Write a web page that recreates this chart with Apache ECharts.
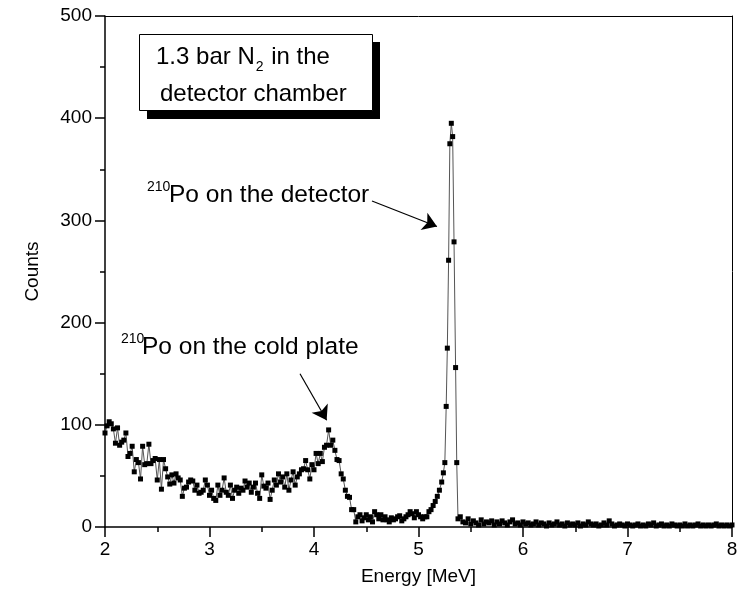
<!DOCTYPE html>
<html>
<head>
<meta charset="utf-8">
<script src="https://cdn.jsdelivr.net/npm/echarts@6/dist/echarts.min.js"></script>
<style>
html, body { margin: 0; padding: 0; background: #fff; }
#chart { width: 745px; height: 605px; }
</style>
</head>
<body>
<div id="chart"></div>
<script>
// spectrum below the main peak, channels of 0.02 MeV starting at 2.00 MeV
const lowStart = 2.0
const lowStep = 0.02
const lowCounts = [
  92, 99, 103, 101, 96, 82, 97, 80, 83, 85, 92, 69, 72, 79, 54, 66, 63, 47, 79, 61,
  62, 81, 62, 65, 67, 46, 66, 37, 66, 57, 49, 42, 51, 43, 52, 48, 46, 30, 38, 39,
  44, 46, 45, 36, 41, 33, 34, 36, 46, 41, 31, 36, 28, 26, 41, 31, 36, 48, 34, 31,
  41, 28, 36, 39, 33, 38, 36, 45, 39, 43, 34, 39, 43, 33, 28, 51, 40, 38, 43, 27,
  36, 46, 41, 52, 44, 49, 39, 52, 36, 46, 54, 41, 49, 52, 56, 57, 65, 56, 47, 61,
  56, 72, 62, 72, 64, 78, 80, 95, 80, 85, 75, 66, 65, 52, 47, 36, 30, 29, 17, 17,
  5, 10, 12, 6, 9, 12, 7, 10, 5, 15, 12, 8, 12, 7, 10, 7, 5, 9, 7, 8,
  10, 11, 6, 8, 10, 12, 15, 13, 9, 15, 12, 10, 8, 10, 10, 15, 17, 21, 25, 30,
  36
]

// 210Po peak on the detector
const peakEnergy = [5.222, 5.238, 5.252, 5.265, 5.276, 5.288, 5.300, 5.314, 5.327, 5.340, 5.355, 5.366, 5.378]
const peakCounts = [44, 53, 63, 118, 175, 261, 375, 395, 382, 279, 156, 63, 8]

// flat tail above the peak, channels of 0.025 MeV starting at 5.40 MeV
const tailStart = 5.4
const tailStep = 0.025
const tailCounts = [
  10, 5, 4, 8, 3, 6, 4, 2, 7, 3,
  5, 4, 6, 2, 5, 3, 6, 4, 2, 5,
  7, 3, 4, 2, 5, 3, 4, 2, 3, 5,
  2, 4, 3, 1, 4, 2, 3, 5, 2, 3,
  1, 4, 2, 3, 2, 4, 1, 3, 2, 5,
  3, 2, 3, 1, 2, 4, 2, 6, 3, 1,
  2, 3, 2, 1, 3, 2, 1, 2, 3, 1,
  2, 1, 3, 2, 4, 1, 2, 3, 1, 2,
  1, 3, 2, 1, 2, 1, 3, 1, 2, 1,
  2, 3, 1, 2, 1, 2, 1, 2, 3, 1,
  2, 1, 2, 1, 2
]

const xTicks = [2, 8, 1]
const yTicks = [0, 500, 100]

// arrows: [from, to] in energy / counts
const arrowDetector = [[4.555, 319], [5.177, 294]]
const arrowColdPlate = [[3.866, 150], [4.121, 104.5]]

const font = 'Liberation Sans, Arial, sans-serif'

const points = []
lowCounts.forEach((c, i) => points.push([+(lowStart + i * lowStep).toFixed(4), c]))
peakCounts.forEach((c, i) => points.push([peakEnergy[i], c]))
tailCounts.forEach((c, i) => points.push([+(tailStart + i * tailStep).toFixed(4), c]))

const ctx = document.createElement('canvas').getContext('2d')
function textWidth (text, size) {
  ctx.font = size + 'px ' + font
  return ctx.measureText(text).width
}

// text of the box, with the subscript of N2
const boxSize = 24
const subSize = 14
const boxX = 156
const w1 = textWidth('1.3 bar N', boxSize)
const w2 = textWidth('2', subSize)

function label (text, x, baseline, size) {
  return {
    type: 'text',
    x: x,
    y: baseline - size * 0.3,
    silent: true,
    style: {
      text: text,
      fontFamily: font,
      fontSize: size,
      fill: '#000',
      verticalAlign: 'middle'
    }
  }
}

const supSize = 14
const annSize = 24.5

const chart = echarts.init(document.getElementById('chart'))
chart.setOption({
  animation: false,
  backgroundColor: '#fff',
  grid: { left: 105, right: 13, top: 16, bottom: 78, containLabel: false, outerBoundsMode: 'none' },
  xAxis: [{
    type: 'value',
    min: xTicks[0],
    max: xTicks[1],
    interval: xTicks[2],
    name: 'Energy [MeV]',
    nameLocation: 'middle',
    nameGap: 40,
    nameTextStyle: { fontFamily: font, fontSize: 19, color: '#000' },
    axisLine: { onZero: false, lineStyle: { color: '#000', width: 1.5 } },
    axisTick: { length: 10, lineStyle: { color: '#000', width: 1.5 } },
    minorTick: { show: true, splitNumber: 2, length: 5, lineStyle: { color: '#000', width: 1.5 } },
    axisLabel: { margin: 13, fontFamily: font, fontSize: 19, color: '#000' },
    splitLine: { show: false }
  }, {
    type: 'value',
    position: 'top',
    min: xTicks[0],
    max: xTicks[1],
    axisLine: { show: true, onZero: false, lineStyle: { color: '#000', width: 1 } },
    axisTick: { show: false },
    axisLabel: { show: false },
    splitLine: { show: false }
  }],
  yAxis: [{
    type: 'value',
    min: yTicks[0],
    max: yTicks[1],
    interval: yTicks[2],
    name: 'Counts',
    nameLocation: 'middle',
    nameGap: 63,
    nameTextStyle: { fontFamily: font, fontSize: 19, color: '#000' },
    axisLine: { show: true, onZero: false, lineStyle: { color: '#000', width: 1.5 } },
    axisTick: { show: true, length: 10, lineStyle: { color: '#000', width: 1.5 } },
    minorTick: { show: true, splitNumber: 2, length: 5, lineStyle: { color: '#000', width: 1.5 } },
    axisLabel: { margin: 13, fontFamily: font, fontSize: 19, color: '#000' },
    splitLine: { show: false }
  }, {
    type: 'value',
    position: 'right',
    min: yTicks[0],
    max: yTicks[1],
    axisLine: { show: true, onZero: false, lineStyle: { color: '#000', width: 1 } },
    axisTick: { show: false },
    axisLabel: { show: false },
    splitLine: { show: false }
  }],
  series: [{
    type: 'line',
    data: points,
    symbol: 'rect',
    symbolSize: 5,
    showAllSymbol: true,
    silent: true,
    lineStyle: { color: '#555', width: 1 },
    itemStyle: { color: '#000' },
    markLine: {
      silent: true,
      symbol: ['none', 'arrow'],
      symbolSize: 14,
      label: { show: false },
      lineStyle: { color: '#000', width: 1.2, type: 'solid' },
      data: [
        [{ coord: arrowDetector[0] }, { coord: arrowDetector[1] }],
        [{ coord: arrowColdPlate[0] }, { coord: arrowColdPlate[1] }]
      ]
    }
  }],
  graphic: [
    { type: 'rect', silent: true, shape: { x: 147, y: 42, width: 233, height: 77 }, style: { fill: '#000' } },
    { type: 'rect', silent: true, shape: { x: 139.5, y: 34.5, width: 233, height: 76 }, style: { fill: '#fff', stroke: '#000', lineWidth: 1 } },
    label('1.3 bar N', boxX, 65, boxSize),
    label('2', boxX + w1 + 1, 71, subSize),
    label(' in the', boxX + w1 + w2 + 2, 65, boxSize),
    label('detector chamber', boxX + 4, 101.5, boxSize),
    label('210', 147, 191, supSize),
    label('Po on the detector', 169, 203, annSize),
    label('210', 121, 343, supSize),
    label('Po on the cold plate', 142, 355, annSize)
  ]
})
</script>
</body>
</html>
